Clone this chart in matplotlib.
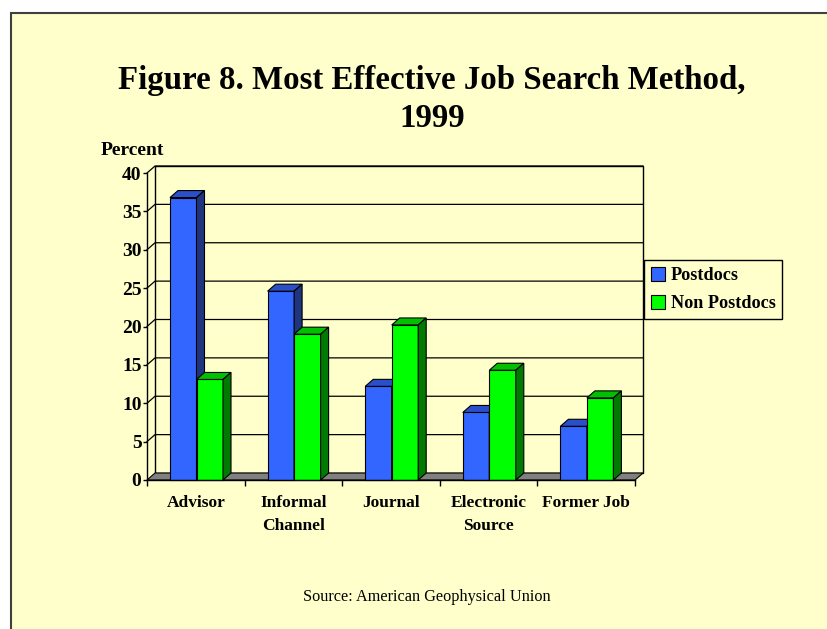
import matplotlib.pyplot as plt
from matplotlib.patches import Polygon, Rectangle, Patch

# Job search survey, 1999 (percent of respondents)
categories = ["Advisor", "Informal\nChannel", "Journal", "Electronic\nSource", "Former Job"]
series_names = ["Postdocs", "Non Postdocs"]
postdocs = [36.8, 24.6, 12.2, 8.8, 7.0]
non_postdocs = [13.1, 19.0, 20.2, 14.3, 10.7]
yticks = [0, 5, 10, 15, 20, 25, 30, 35, 40]

W, H = 827, 629
BG = "#FFFFCC"
FONT = "Liberation Serif"

# face colours: front, top, side
BLUE = ("#3366FF", "#2A4FC8", "#1F3580")
GREEN = ("#00FF00", "#00C000", "#007A00")


def fx(px):
    return px / W


def fy(py):
    return 1 - py / H


fig = plt.figure(figsize=(W / 100, H / 100), dpi=100, facecolor="white")

# yellow slide panel
fig.patches.append(Rectangle((fx(10.5), -0.1), 1.2, fy(12.5) + 0.1,
                             transform=fig.transFigure, facecolor=BG,
                             edgecolor="#404040", lw=1.5, zorder=-1))

ax = fig.add_axes([fx(147), fy(480), (635 - 147) / W, (480 - 173) / H])
ax.set_xlim(0, 5)
ax.set_ylim(0, 40)
ax.patch.set_visible(False)

# depth of the pseudo-3D box, in data units
dx = 8 / 97.6
dy = 7 * 40 / 307

# back wall + gridlines running across the side wall
ax.add_patch(Rectangle((dx, dy), 5, 40, facecolor="none", edgecolor="black",
                       lw=1, clip_on=False, zorder=1))
for v in yticks[1:]:
    ax.plot([0, dx, 5 + dx], [v, v + dy, v + dy], color="black", lw=0.9,
            clip_on=False, zorder=1)

# floor
ax.add_patch(Polygon([(0, 0), (5, 0), (5 + dx, dy), (dx, dy)], closed=True,
                     facecolor="#808080", edgecolor="black", lw=0.8,
                     clip_on=False, zorder=2))

bw = 0.2715
off = 0.2357


def draw_bars(values, shift, cols, z):
    lefts = [i + off + shift for i in range(len(values))]
    ax.bar(lefts, values, width=bw, align="edge", color=cols[0],
           edgecolor="black", lw=0.8, zorder=z, clip_on=False)
    for x0, h in zip(lefts, values):
        x1 = x0 + bw
        ax.add_patch(Polygon([(x0, h), (x1, h), (x1 + dx, h + dy), (x0 + dx, h + dy)],
                             closed=True, facecolor=cols[1], edgecolor="black",
                             lw=0.8, zorder=z, clip_on=False))
        ax.add_patch(Polygon([(x1, 0), (x1 + dx, dy), (x1 + dx, h + dy), (x1, h)],
                             closed=True, facecolor=cols[2], edgecolor="black",
                             lw=0.8, zorder=z, clip_on=False))


draw_bars(postdocs, 0, BLUE, 3)
draw_bars(non_postdocs, bw, GREEN, 4)

for s in ["top", "right"]:
    ax.spines[s].set_visible(False)
for s in ["left", "bottom"]:
    ax.spines[s].set_linewidth(1)
    ax.spines[s].set_zorder(5)

ax.set_yticks(yticks)
ax.set_yticklabels([str(v) for v in yticks], fontfamily=FONT,
                   fontweight="bold", fontsize=14)
ax.tick_params(axis="y", direction="out", length=3, width=1, pad=1)

ax.set_xticks(range(6))
ax.set_xticklabels([])
ax.tick_params(axis="x", which="major", direction="out", length=4, width=1)
ax.set_xticks([i + 0.5 for i in range(5)], minor=True)
ax.set_xticklabels(categories, minor=True, fontfamily=FONT, fontweight="bold",
                   fontsize=12.5, linespacing=1.6)
ax.tick_params(axis="x", which="minor", length=0, pad=11)

fig.text(fx(101), fy(151), "Percent", ha="left", va="center",
         fontfamily=FONT, fontweight="bold", fontsize=14)

fig.text(fx(432), fy(99.5), "Figure 8. Most Effective Job Search Method,\n1999",
         ha="center", va="center", fontfamily=FONT, fontweight="bold",
         fontsize=23.7, linespacing=1.27)

fig.text(fx(427), fy(597), "Source: American Geophysical Union",
         ha="center", va="center", fontfamily=FONT, fontsize=11.7)

handles = [Patch(facecolor=BLUE[0], edgecolor="black", lw=0.8),
           Patch(facecolor=GREEN[0], edgecolor="black", lw=0.8)]
leg = fig.legend(handles, series_names, loc="upper left",
                 bbox_to_anchor=(fx(644), fy(260)), frameon=True,
                 fancybox=False, facecolor=BG, edgecolor="black", framealpha=1,
                 prop={"family": FONT, "weight": "bold", "size": 13.1},
                 handlelength=0.78, handleheight=0.78, handletextpad=0.3,
                 labelspacing=0.6, borderpad=0.38, borderaxespad=0)
leg.get_frame().set_linewidth(1)

fig.savefig("out.png", dpi=100, facecolor="white")
